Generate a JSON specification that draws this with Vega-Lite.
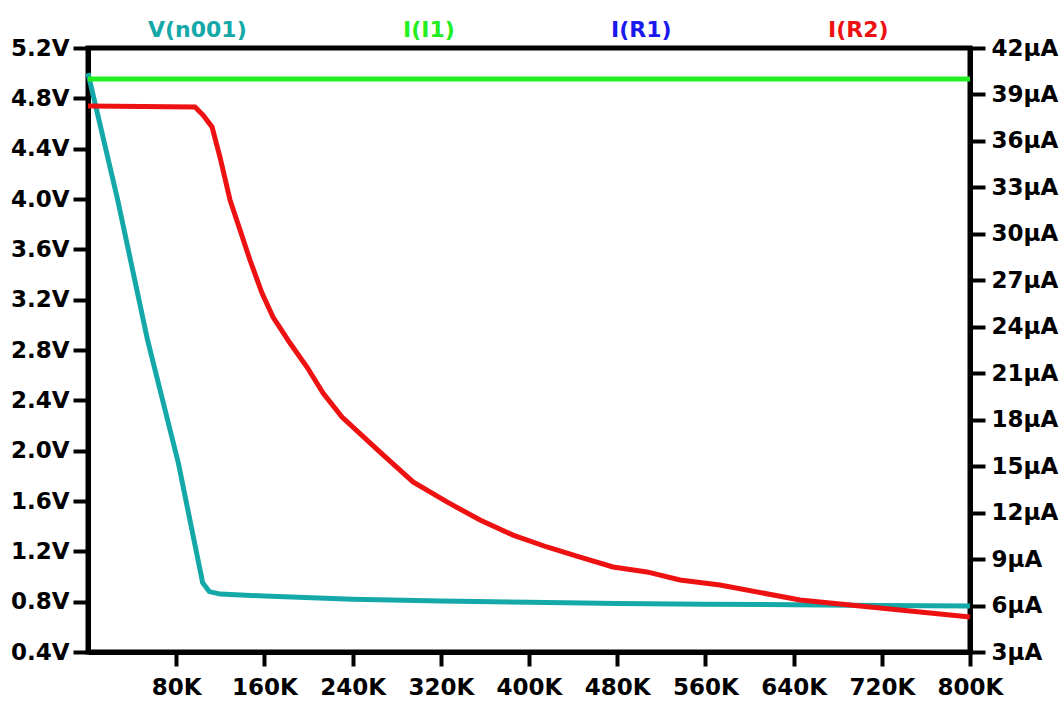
{
  "$schema": "https://vega.github.io/schema/vega-lite/v6.json",
  "width": 882,
  "height": 604,
  "autosize": {"type": "none"},
  "padding": {"left": 88, "top": 48, "right": 94, "bottom": 50},
  "background": "white",
  "config": {
    "view": {"stroke": "black", "strokeWidth": 5},
    "axis": {
      "domainColor": "black",
      "domainWidth": 5,
      "tickColor": "black",
      "tickWidth": 4,
      "grid": false,
      "labelFont": "DejaVu Sans",
      "labelFontWeight": "bold",
      "labelFontSize": 23,
      "labelColor": "black",
      "labelFlush": false,
      "labelBound": false,
      "labelOverlap": false,
      "title": null
    }
  },
  "datasets": {
    "v": [
      {"series": "V(n001)", "r": 0, "val": 5.0},
      {"series": "V(n001)", "r": 27000, "val": 3.99},
      {"series": "V(n001)", "r": 54000, "val": 2.88},
      {"series": "V(n001)", "r": 82000, "val": 1.9},
      {"series": "V(n001)", "r": 104000, "val": 0.95},
      {"series": "V(n001)", "r": 110000, "val": 0.88},
      {"series": "V(n001)", "r": 120000, "val": 0.86},
      {"series": "V(n001)", "r": 160000, "val": 0.845},
      {"series": "V(n001)", "r": 240000, "val": 0.82},
      {"series": "V(n001)", "r": 320000, "val": 0.805},
      {"series": "V(n001)", "r": 400000, "val": 0.795},
      {"series": "V(n001)", "r": 480000, "val": 0.785},
      {"series": "V(n001)", "r": 560000, "val": 0.78},
      {"series": "V(n001)", "r": 640000, "val": 0.775},
      {"series": "V(n001)", "r": 720000, "val": 0.77},
      {"series": "V(n001)", "r": 800000, "val": 0.765}
    ],
    "i1": [
      {"series": "I(I1)", "r": 0, "val": 40},
      {"series": "I(I1)", "r": 800000, "val": 40}
    ],
    "r2": [
      {"series": "I(R2)", "r": 0, "val": 38.25},
      {"series": "I(R2)", "r": 97100, "val": 38.19},
      {"series": "I(R2)", "r": 104300, "val": 37.67},
      {"series": "I(R2)", "r": 112500, "val": 36.9},
      {"series": "I(R2)", "r": 119700, "val": 34.96},
      {"series": "I(R2)", "r": 128800, "val": 32.19},
      {"series": "I(R2)", "r": 137900, "val": 30.25},
      {"series": "I(R2)", "r": 146900, "val": 28.31},
      {"series": "I(R2)", "r": 157800, "val": 26.18},
      {"series": "I(R2)", "r": 167800, "val": 24.63},
      {"series": "I(R2)", "r": 183200, "val": 22.95},
      {"series": "I(R2)", "r": 198600, "val": 21.4},
      {"series": "I(R2)", "r": 213200, "val": 19.72},
      {"series": "I(R2)", "r": 230400, "val": 18.17},
      {"series": "I(R2)", "r": 264900, "val": 15.91},
      {"series": "I(R2)", "r": 294800, "val": 13.98},
      {"series": "I(R2)", "r": 325600, "val": 12.69},
      {"series": "I(R2)", "r": 355600, "val": 11.52},
      {"series": "I(R2)", "r": 385500, "val": 10.55},
      {"series": "I(R2)", "r": 416300, "val": 9.78},
      {"series": "I(R2)", "r": 446300, "val": 9.13},
      {"series": "I(R2)", "r": 476200, "val": 8.49},
      {"series": "I(R2)", "r": 507000, "val": 8.17},
      {"series": "I(R2)", "r": 537000, "val": 7.65},
      {"series": "I(R2)", "r": 573200, "val": 7.33},
      {"series": "I(R2)", "r": 645800, "val": 6.36},
      {"series": "I(R2)", "r": 718400, "val": 5.84},
      {"series": "I(R2)", "r": 800000, "val": 5.26}
    ]
  },
  "layer": [
    {
      "data": {"name": "v"},
      "mark": {"type": "line", "strokeWidth": 5},
      "encoding": {
        "x": {
          "field": "r", "type": "quantitative",
          "scale": {"domain": [0, 800000], "nice": false},
          "axis": {
            "values": [80000, 160000, 240000, 320000, 400000, 480000, 560000, 640000, 720000, 800000],
            "labelExpr": "(datum.value / 1000) + 'K'",
            "tickSize": 14,
            "labelPadding": 10
          }
        },
        "y": {
          "field": "val", "type": "quantitative",
          "scale": {"domain": [0.4, 5.2], "nice": false, "zero": false},
          "axis": {
            "orient": "left",
            "values": [0.4, 0.8, 1.2, 1.6, 2.0, 2.4, 2.8, 3.2, 3.6, 4.0, 4.4, 4.8, 5.2],
            "labelExpr": "format(datum.value, '.1f') + 'V'",
            "tickSize": 15,
            "labelPadding": 4
          }
        },
        "color": {
          "field": "series", "type": "nominal",
          "scale": {
            "domain": ["V(n001)", "I(I1)", "I(R1)", "I(R2)"],
            "range": ["#14a8a8", "#22ee22", "#1a1aee", "#ee1111"]
          },
          "legend": {
            "orient": "none",
            "legendX": 38,
            "legendY": -29,
            "direction": "horizontal",
            "title": null,
            "symbolSize": 0,
            "symbolOpacity": 0,
            "symbolStrokeWidth": 0,
            "labelOffset": 0,
            "columnPadding": 134,
            "labelFont": "DejaVu Sans",
            "labelFontWeight": "bold",
            "labelFontSize": 22,
            "labelLimit": 0,
            "padding": 0,
            "encode": {"labels": {"update": {"fill": {"scale": "color", "field": "value"}}}}
          }
        }
      }
    },
    {
      "data": {"name": "i1"},
      "mark": {"type": "line", "strokeWidth": 5},
      "encoding": {
        "x": {"field": "r", "type": "quantitative", "scale": {"domain": [0, 800000], "nice": false}},
        "y": {
          "field": "val", "type": "quantitative",
          "scale": {"domain": [3, 42], "nice": false, "zero": false},
          "axis": {
            "orient": "right",
            "values": [3, 6, 9, 12, 15, 18, 21, 24, 27, 30, 33, 36, 39, 42],
            "labelExpr": "datum.value + 'µA'",
            "tickSize": 15,
            "labelPadding": 6
          }
        },
        "color": {"field": "series", "type": "nominal"}
      }
    },
    {
      "data": {"name": "r2"},
      "mark": {"type": "line", "strokeWidth": 5},
      "encoding": {
        "x": {"field": "r", "type": "quantitative", "scale": {"domain": [0, 800000], "nice": false}},
        "y": {
          "field": "val", "type": "quantitative",
          "scale": {"domain": [3, 42], "nice": false, "zero": false},
          "axis": null
        },
        "color": {"field": "series", "type": "nominal"}
      }
    }
  ],
  "resolve": {"scale": {"y": "independent"}}
}
